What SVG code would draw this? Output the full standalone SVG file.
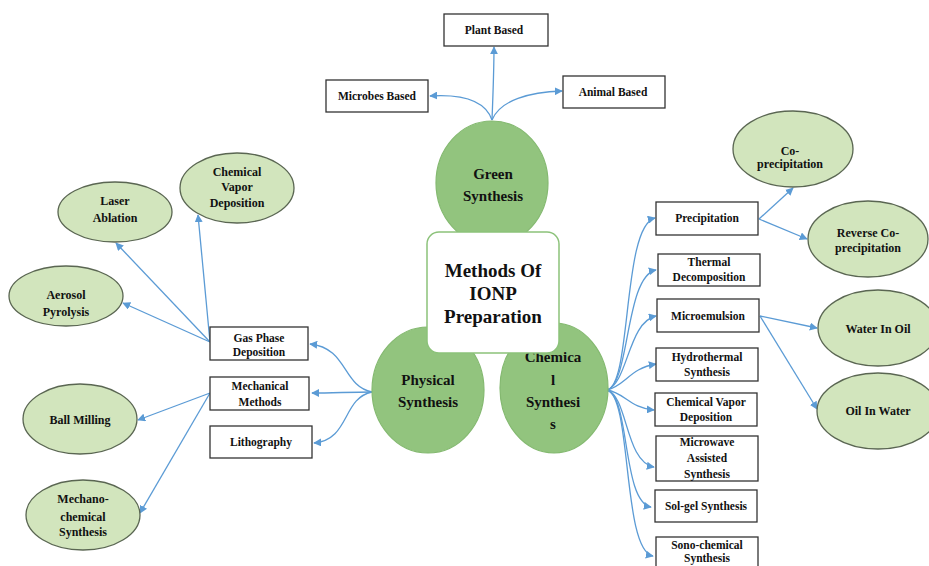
<svg xmlns="http://www.w3.org/2000/svg" width="929" height="566" viewBox="0 0 929 566">
<style>
text{font-family:"Liberation Serif","Times New Roman",serif;font-weight:bold;fill:#111;text-anchor:middle}
.box rect{fill:#fff;stroke:#333;stroke-width:1.3}
.box text{font-size:11.5px}
.leaf ellipse{fill:#d2e5bd;stroke:#5a6652;stroke-width:1.3}
.leaf text{font-size:12px}
.main ellipse{fill:#92c47e;stroke:#84b970;stroke-width:1.2}
.main text{font-size:15px}
.center rect{fill:#fff;stroke:#8cc27a;stroke-width:1.5}
.center text{font-size:19px}
#connectors path{fill:none;stroke:#5b9bd5;stroke-width:1.3;marker-end:url(#ah)}
</style>
<defs>
<marker id="ah" viewBox="0 0 10 10" refX="9" refY="5" markerWidth="8" markerHeight="8" markerUnits="userSpaceOnUse" orient="auto">
<path d="M0,0 L10,5 L0,10 z" fill="#5b9bd5"/>
</marker>
</defs>
<rect width="929" height="566" fill="#fff"/>

<g id="connectors">
<path d="M492,120 C493,95 494,70 494,47"/>
<path d="M492,120 C485,100 462,94 430,96"/>
<path d="M492,120 C500,100 530,92 562,91"/>
<path d="M372,392 C342,386 348,348 310,344"/>
<path d="M372,392 C352,392 332,393 312,393"/>
<path d="M372,392 C342,398 350,440 314,443"/>
<path d="M210,342 L198,215"/>
<path d="M210,342 L116,243"/>
<path d="M210,342 L123,303"/>
<path d="M210,393 L138,420"/>
<path d="M210,393 L140,513"/>
<path d="M607,390 C632,385 622,226 655,218"/>
<path d="M607,390 C630,384 625,276 656,270"/>
<path d="M607,390 C628,383 628,322 656,316"/>
<path d="M607,390 C625,386 630,368 656,364"/>
<path d="M607,390 C625,393 630,408 654,410"/>
<path d="M607,390 C628,396 625,462 654,467"/>
<path d="M607,390 C630,396 622,502 651,507"/>
<path d="M607,390 C632,396 622,550 653,556"/>
<path d="M759,219 L793,188"/>
<path d="M759,219 L807,239"/>
<path d="M760,316 L817,328"/>
<path d="M760,316 L817,409"/>
</g>

<g id="plant-based" class="box"><rect x="444" y="14" width="104" height="32"/><text x="494" y="34">Plant Based</text></g>
<g id="microbes-based" class="box"><rect x="326" y="80" width="102" height="32"/><text x="377" y="100">Microbes Based</text></g>
<g id="animal-based" class="box"><rect x="563" y="76" width="102" height="32"/><text x="613" y="96">Animal Based</text></g>

<g id="green-synthesis" class="main"><ellipse cx="492" cy="183" rx="56" ry="62"/><text x="493" y="179">Green</text><text x="493" y="201">Synthesis</text></g>
<g id="physical-synthesis" class="main"><ellipse cx="428" cy="390" rx="56" ry="63"/><text x="428" y="385">Physical</text><text x="428" y="407">Synthesis</text></g>
<g id="chemical-synthesis" class="main"><ellipse cx="554" cy="388" rx="54" ry="65"/><text x="553" y="362">Chemica</text><text x="553" y="385">l</text><text x="553" y="407">Synthesi</text><text x="553" y="429">s</text></g>

<g id="methods-center" class="center"><rect x="427" y="232" width="132" height="121" rx="12"/><text x="493" y="277">Methods Of</text><text x="493" y="300">IONP</text><text x="493" y="323">Preparation</text></g>

<g id="gas-phase" class="box"><rect x="210" y="327" width="98" height="33"/><text x="259" y="342">Gas Phase</text><text x="259" y="356">Deposition</text></g>
<g id="mechanical" class="box"><rect x="210" y="377" width="99" height="33"/><text x="260" y="390">Mechanical</text><text x="260" y="406">Methods</text></g>
<g id="lithography" class="box"><rect x="210" y="426" width="102" height="32"/><text x="261" y="446">Lithography</text></g>

<g id="laser-ablation" class="leaf"><ellipse cx="115" cy="212" rx="57" ry="30"/><text x="115" y="205">Laser</text><text x="115" y="222">Ablation</text></g>
<g id="cvd-left" class="leaf"><ellipse cx="237" cy="188" rx="57" ry="35"/><text x="237" y="176">Chemical</text><text x="237" y="191">Vapor</text><text x="237" y="207">Deposition</text></g>
<g id="aerosol" class="leaf"><ellipse cx="66" cy="296" rx="57" ry="30"/><text x="66" y="299">Aerosol</text><text x="66" y="316">Pyrolysis</text></g>
<g id="ball-milling" class="leaf"><ellipse cx="80" cy="419" rx="57" ry="35"/><text x="80" y="424">Ball Milling</text></g>
<g id="mechano" class="leaf"><ellipse cx="83" cy="515" rx="57" ry="35"/><text x="83" y="503">Mechano-</text><text x="83" y="521">chemical</text><text x="83" y="536">Synthesis</text></g>

<g id="precipitation" class="box"><rect x="656" y="202" width="102" height="33"/><text x="707" y="222">Precipitation</text></g>
<g id="thermal" class="box"><rect x="658" y="254" width="102" height="32"/><text x="709" y="266">Thermal</text><text x="709" y="281">Decomposition</text></g>
<g id="microemulsion" class="box"><rect x="657" y="299" width="102" height="33"/><text x="708" y="320">Microemulsion</text></g>
<g id="hydrothermal" class="box"><rect x="656" y="348" width="102" height="33"/><text x="707" y="361">Hydrothermal</text><text x="707" y="376">Synthesis</text></g>
<g id="cvd-right" class="box"><rect x="655" y="393" width="102" height="33"/><text x="706" y="406">Chemical Vapor</text><text x="706" y="421">Deposition</text></g>
<g id="microwave" class="box"><rect x="656" y="436" width="102" height="45"/><text x="707" y="446">Microwave</text><text x="707" y="462">Assisted</text><text x="707" y="478">Synthesis</text></g>
<g id="sol-gel" class="box"><rect x="655" y="490" width="102" height="32"/><text x="706" y="510">Sol-gel Synthesis</text></g>
<g id="sono" class="box"><rect x="656" y="537" width="102" height="40"/><text x="707" y="549">Sono-chemical</text><text x="707" y="562">Synthesis</text></g>

<g id="co-precipitation" class="leaf"><ellipse cx="793" cy="149" rx="60" ry="38"/><text x="790" y="155">Co-</text><text x="790" y="168">precipitation</text></g>
<g id="reverse-co" class="leaf"><ellipse cx="868" cy="239" rx="60" ry="38"/><text x="868" y="237">Reverse Co-</text><text x="868" y="252">precipitation</text></g>
<g id="water-in-oil" class="leaf"><ellipse cx="878" cy="328" rx="60" ry="38"/><text x="878" y="333">Water In Oil</text></g>
<g id="oil-in-water" class="leaf"><ellipse cx="878" cy="411" rx="61" ry="38"/><text x="878" y="415">Oil In Water</text></g>
</svg>
